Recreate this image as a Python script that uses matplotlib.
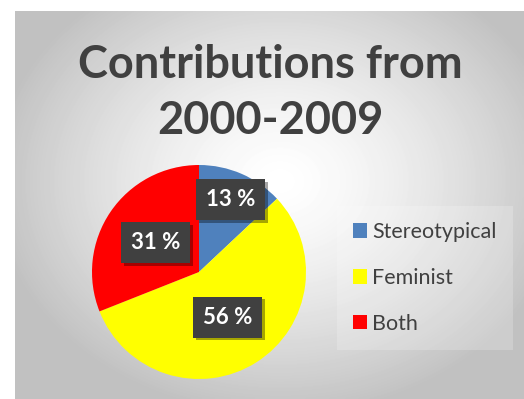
import numpy as np
import matplotlib
matplotlib.use("Agg")
import matplotlib.pyplot as plt
import matplotlib.patheffects as pe
from matplotlib.patches import Rectangle

categories = ["Stereotypical", "Feminist", "Both"]
values = [13, 56, 31]
colors = ["#4f81bd", "#ffff00", "#ff0000"]
label_texts = ["13 %", "56 %", "31 %"]
title = "Contributions from\n2000-2009"

W, H = 524, 399
fig = plt.figure(figsize=(W / 100, H / 100), dpi=100)
fig.patch.set_facecolor("white")
FONT = "Lato"

# background panel with radial gradient
bg = fig.add_axes([15 / W, 0, (W - 15) / W, (H - 11) / H])
bg.set_axis_off()
yy, xx = np.mgrid[0:H - 11, 0:W - 15]
cx, cy = 265, 170
d = np.sqrt(((xx - cx) / 320.0) ** 2 + ((yy - cy) / 260.0) ** 2)
val = np.clip(1.0 - 0.28 * d ** 1.4, 0.76, 1.0)
bg.imshow(val, cmap="gray", vmin=0, vmax=1, aspect="auto",
          extent=[0, W - 15, H - 11, 0], interpolation="bilinear")
bg.set_xlim(0, W - 15)
bg.set_ylim(H - 11, 0)

# title
fig.text(270 / W, 1 - 93 / H, title, ha="center", va="center",
         fontsize=32.5, fontweight="bold", color="#404040", family=FONT,
         linespacing=1.42)

# pie
cxp, cyp, R = 199, 272, 107
ax = fig.add_axes([(cxp - R) / W, (H - cyp - R) / H, 2 * R / W, 2 * R / H])
ax.patch.set_alpha(0)
wedges, _ = ax.pie(values, colors=colors, startangle=90, counterclock=False,
                   radius=1.0, wedgeprops=dict(linewidth=0))
ax.set_xlim(-1, 1)
ax.set_ylim(-1, 1)
ax.set_axis_off()

label_dist = [0.74, 0.50, 0.49]
for w, txt, dist in zip(wedges, label_texts, label_dist):
    ang = np.deg2rad((w.theta1 + w.theta2) / 2)
    t = ax.text(dist * np.cos(ang), dist * np.sin(ang), txt, ha="center",
                va="center", fontsize=16, fontweight="bold", color="white",
                family=FONT,
                bbox=dict(boxstyle="square,pad=0.45", fc="#404040", ec="none"))
    t.get_bbox_patch().set_path_effects(
        [pe.SimplePatchShadow(offset=(2, -2), shadow_rgbFace="black", alpha=0.35),
         pe.Normal()])

# legend
handles = [Rectangle((0, 0), 1, 1, fc=c, ec="none") for c in colors]
leg = fig.legend(handles, categories, loc="center left",
                 bbox_to_anchor=(343 / W, 1 - 278 / H), frameon=True,
                 labelspacing=1.2, handlelength=0.65,
                 handleheight=0.65, handletextpad=0.25, borderpad=0.45,
                 borderaxespad=0.0,
                 prop=dict(family=FONT, size=15.5))
leg.get_frame().set_facecolor("white")
leg.get_frame().set_alpha(0.2)
leg.get_frame().set_edgecolor("none")
leg.get_frame().set_boxstyle("square")
for t in leg.get_texts():
    t.set_color("#404040")

fig.savefig("out.png", dpi=100)
